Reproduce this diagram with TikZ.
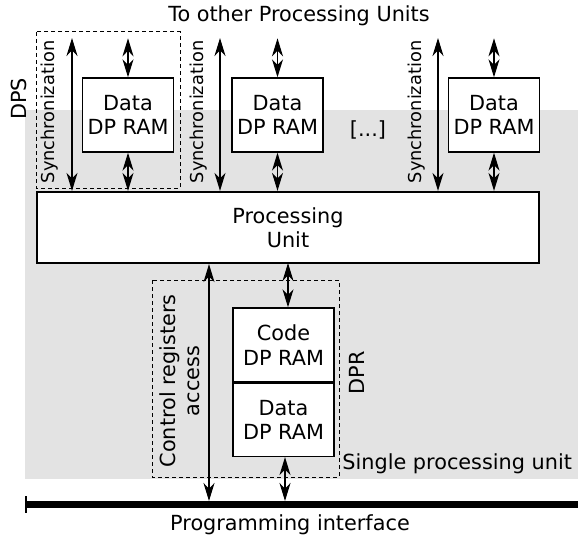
\documentclass[tikz,border=0pt]{standalone}
\usepackage{fontspec}
\setmainfont{DejaVu Sans}
\usetikzlibrary{arrows.meta}
\definecolor{bggray}{RGB}{227,227,227}
\begin{document}
\begin{tikzpicture}[x=0.5pt,y=-0.5pt,
  every node/.style={font=\fontsize{10.4}{12.2}\selectfont, inner sep=0pt},
  ram/.style={draw, line width=0.7pt, fill=white, align=center, minimum width=45.5pt, minimum height=37pt},
  bi/.style={line width=0.6pt, {Stealth[length=9pt,width=5.5pt,inset=2.8pt]}-{Stealth[length=9pt,width=5.5pt,inset=2.8pt]}},
  synclabel/.style={font=\fontsize{8.9}{10}\selectfont, rotate=90},
  frame/.style={draw, dash pattern=on 2pt off 1.5pt, line width=0.5pt}]
\useasboundingbox (0,0) rectangle (578,540);
\fill[bggray] (25,110) rectangle (578,479);

% top label
\node (top) at (299,16) {To other Processing Units};
\node[rotate=90] (dps) at (19,99) {DPS};

% DPS dashed frame
\draw[frame] (36,32) rectangle (180,188);

% processing unit
\node[draw, line width=1.1pt, fill=white, align=center, minimum width=251pt, minimum height=35.5pt] (pu) at (288,227.5) {Processing\\Unit};

% top RAMs
\node[ram] (r1) at (128,115) {Data\\DP RAM};
\node[ram] (r2) at (277.5,115) {Data\\DP RAM};
\node[ram] (r3) at (494,115) {Data\\DP RAM};
\node (dots) at (368,130) {[...]};

% sync labels and arrows
\node[synclabel] (s1) at (50,112) {Synchronization};
\node[synclabel] (s2) at (199,112) {Synchronization};
\node[synclabel] (s3) at (417,112) {Synchronization};
\coordinate (a1) at (72,38);
\coordinate (a2) at (220,38);
\coordinate (a3) at (438,38);
\draw[bi] (a1) -- (a1 |- pu.north);
\draw[bi] (a2) -- (a2 |- pu.north);
\draw[bi] (a3) -- (a3 |- pu.north);

% ram arrows
\foreach \r in {r1,r2,r3}{
  \coordinate (\r t) at ([yshift=19.5pt]\r.north);
  \draw[bi] (\r t) -- (\r.north);
  \draw[bi] (\r.south) -- (\r.south |- pu.north);
}

% DPR frame
\draw[frame] (152,280) rectangle (339,477);
\node[ram, minimum width=50.5pt, minimum height=37pt] (code) at (283.5,345) {Code\\DP RAM};
\node[ram, minimum width=50.5pt, minimum height=36.5pt, anchor=north] (data) at (code.south) {Data\\DP RAM};
\node[rotate=90] (dpr) at (357,373) {DPR};
\node[rotate=90, align=center] (ctrl) at (180,381) {Control registers\\access};
\node[anchor=south west] (spu) at (342,474) {Single processing unit};

% programming interface
\coordinate (pl) at (26,504.5);
\coordinate (pr) at (578,504.5);
\draw[line width=3.5pt] (pl) -- (pr);
\draw[line width=0.8pt] (26,496) -- (26,513);
\node (prog) at (290,525) {Programming interface};

% lower arrows
\coordinate (c1) at (209,504.5);
\draw[bi] (c1 |- pu.south) -- ([yshift=1.75pt]c1);
\draw[bi] (code.north -| 288,0) -- (288,263);
\draw[bi] (data.south -| 285,0) -- (285,501);
\end{tikzpicture}
\end{document}
